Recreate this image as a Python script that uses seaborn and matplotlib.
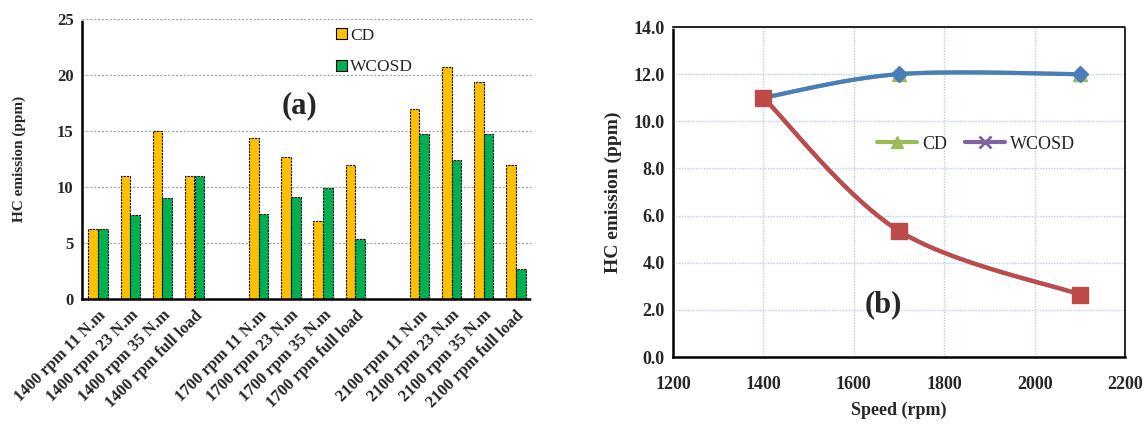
import numpy as np
import pandas as pd
import matplotlib
matplotlib.use("Agg")
import matplotlib.pyplot as plt
import seaborn as sns
from matplotlib.lines import Line2D
from matplotlib.patches import Patch
from matplotlib.ticker import MultipleLocator, FormatStrFormatter

sns.set_style("white")
plt.rcParams['font.family'] = ['Liberation Serif', 'DejaVu Serif']
plt.rcParams['font.weight'] = 'bold'

# ---------------- data (a) ----------------
slots = ["1400 rpm 11 N.m", "1400 rpm 23 N.m", "1400 rpm 35 N.m", "1400 rpm full load", "gap1",
         "1700 rpm 11 N.m", "1700 rpm 23 N.m", "1700 rpm 35 N.m", "1700 rpm full load", "gap2",
         "2100 rpm 11 N.m", "2100 rpm 23 N.m", "2100 rpm 35 N.m", "2100 rpm full load"]
cd_vals = [6.25, 11.0, 15.0, 11.0, np.nan,
           14.4, 12.7, 7.0, 12.0, np.nan,
           17.0, 20.7, 19.4, 12.0]
wcosd_vals = [6.25, 7.5, 9.0, 11.0, np.nan,
              7.6, 9.1, 9.9, 5.35, np.nan,
              14.7, 12.45, 14.75, 2.65]
tick_labels = [s if not s.startswith("gap") else "" for s in slots]
series_names = ["CD", "WCOSD"]
bar_colors = ["#FFC000", "#00B050"]

# ---------------- data (b) ----------------
speed = [1400, 1700, 2100]
cd_line = [11.0, 12.0, 12.0]
wcosd_line = [11.0, 5.35, 2.65]


def smooth(xs, ys, n=60):
    """Excel-like smoothed curve (Bezier through points, Catmull-Rom tangents)."""
    P = np.column_stack([xs, ys]).astype(float)
    m = len(P)
    out = []
    for i in range(m - 1):
        p0 = P[max(i - 1, 0)]
        p1 = P[i]
        p2 = P[i + 1]
        p3 = P[min(i + 2, m - 1)]
        c1 = p1 + (p2 - p0) / 6.0
        c2 = p2 - (p3 - p1) / 6.0
        t = np.linspace(0, 1, n)[:, None]
        seg = ((1 - t) ** 3) * p1 + 3 * ((1 - t) ** 2) * t * c1 + 3 * (1 - t) * t ** 2 * c2 + t ** 3 * p2
        out.append(seg if i == 0 else seg[1:])
    out = np.vstack(out)
    return out[:, 0], out[:, 1]


fig = plt.figure(figsize=(11.48, 4.25), dpi=100)
ax1 = fig.add_axes([82 / 1148, 1 - 299 / 425, 450 / 1148, 280 / 425])
ax2 = fig.add_axes([673 / 1148, 1 - 357 / 425, 452 / 1148, 330 / 425])

# ---------------- chart (a) ----------------
df = pd.DataFrame({
    "cond": slots * 2,
    "series": [series_names[0]] * len(slots) + [series_names[1]] * len(slots),
    "value": cd_vals + wcosd_vals,
})
sns.barplot(data=df, x="cond", y="value", hue="series", order=slots,
            hue_order=series_names, palette=bar_colors, width=0.6, saturation=1,
            edgecolor="black", linewidth=0.8, ax=ax1, legend=False)
for p in ax1.patches:
    p.set_linestyle((0, (2, 1)))

ax1.set_xlim(-0.5, len(slots) - 0.5)
ax1.set_ylim(0, 25)
ax1.set_yticks([0, 5, 10, 15, 20, 25])
ax1.set_yticklabels(["0", "5", "10", "15", "20", "25"], fontsize=12, fontweight='bold')
ax1.set_xticks(range(len(slots)))
ax1.set_xticklabels(tick_labels, rotation=45, ha='right', rotation_mode='anchor',
                    fontsize=12, fontweight='bold')
ax1.tick_params(axis='x', length=0, pad=6)
ax1.tick_params(axis='y', length=0, pad=6)
ax1.set_xticks(np.arange(-0.5, len(slots), 1.0), minor=True)
ax1.tick_params(axis='x', which='minor', direction='in', length=4, width=1.2, color='black')
ax1.yaxis.grid(True, color='#A0A0A0', linestyle=(0, (2, 1.5)), linewidth=0.8)
ax1.xaxis.grid(False)
ax1.set_axisbelow(True)
for s in ['top', 'right']:
    ax1.spines[s].set_visible(False)
for s in ['left', 'bottom']:
    ax1.spines[s].set_color('black')
    ax1.spines[s].set_linewidth(1.8)
    ax1.spines[s].set_linestyle((0, (1, 1)))
ax1.set_xlabel("")
ax1.set_ylabel("HC emission (ppm)", fontsize=11, fontweight='bold', labelpad=22)
ax1.text(0.484, 0.69, "(a)", transform=ax1.transAxes, fontsize=22, fontweight='bold',
         ha='center', va='center')
leg_handles = [Patch(facecolor=c, edgecolor='black', linewidth=0.8) for c in bar_colors]
ax1.legend(leg_handles, series_names, loc='upper left', bbox_to_anchor=(0.53, 1.025),
           frameon=False, prop={'family': 'Liberation Serif', 'weight': 'normal', 'size': 12.5},
           handlelength=0.6, handleheight=0.6, handletextpad=0.2, labelspacing=0.9)

# ---------------- chart (b) ----------------
xs_cd, ys_cd = smooth(speed, cd_line)
xs_w, ys_w = smooth(speed, wcosd_line)
curve_cd = pd.DataFrame({"x": xs_cd, "y": ys_cd})
curve_w = pd.DataFrame({"x": xs_w, "y": ys_w})
pts = pd.DataFrame({"speed": speed, "cd": cd_line, "wcosd": wcosd_line})

# hidden-under series (as in the original chart)
sns.lineplot(data=curve_cd, x="x", y="y", color="#9BBB59", linewidth=3, ax=ax2, sort=False, zorder=3)
ax2.plot(pts["speed"], pts["cd"], linestyle='none', marker='^', markersize=10,
         color="#9BBB59", zorder=3)
sns.lineplot(data=curve_w, x="x", y="y", color="#8064A2", linewidth=3, ax=ax2, sort=False, zorder=3)
# visible series
sns.lineplot(data=curve_cd, x="x", y="y", color="#4A7EBB", linewidth=3, ax=ax2, sort=False, zorder=4)
ax2.plot(pts["speed"], pts["cd"], linestyle='none', marker='D', markersize=8,
         color="#4A7EBB", zorder=4)
sns.lineplot(data=curve_w, x="x", y="y", color="#BE4B48", linewidth=3, ax=ax2, sort=False, zorder=5)
ax2.plot(pts["speed"], pts["wcosd"], linestyle='none', marker='s', markersize=12,
         color="#BE4B48", zorder=5)

ax2.set_xlim(1200, 2200)
ax2.set_ylim(0, 14)
ax2.set_xticks(range(1200, 2201, 200))
ax2.set_yticks(np.arange(0, 14.01, 2))
ax2.yaxis.set_major_formatter(FormatStrFormatter('%.1f'))
ax2.xaxis.set_minor_locator(MultipleLocator(40))
for lab in ax2.get_xticklabels() + ax2.get_yticklabels():
    lab.set_fontweight('bold')
    lab.set_fontsize(13)
ax2.tick_params(axis='x', which='major', direction='in', length=4, width=1.2, pad=14)
ax2.tick_params(axis='x', which='minor', direction='in', length=4, width=1.2)
ax2.tick_params(axis='y', length=0, pad=6)
ax2.grid(True, which='major', color='#B9CDE5', linestyle=(0, (1, 1)), linewidth=1.0)
ax2.set_axisbelow(True)
for s in ['top', 'right', 'left', 'bottom']:
    ax2.spines[s].set_color('black')
    ax2.spines[s].set_linewidth(1.2)
    ax2.spines[s].set_linestyle((0, (1, 1)))
ax2.spines['left'].set_linewidth(1.8)
ax2.spines['bottom'].set_linewidth(1.8)
ax2.set_xlabel("Speed (rpm)", fontsize=13, fontweight='bold', labelpad=6)
ax2.set_ylabel("HC emission (ppm)", fontsize=14, fontweight='bold', labelpad=8)
ax2.text(0.465, 0.158, "(b)", transform=ax2.transAxes, fontsize=22, fontweight='bold',
         ha='center', va='center')
leg2 = [Line2D([0], [0], color="#9BBB59", linewidth=3, marker='^', markersize=8),
        Line2D([0], [0], color="#8064A2", linewidth=3, marker='x', markersize=8, markeredgewidth=2)]
ax2.legend(leg2, series_names, loc='center left', bbox_to_anchor=(0.415, 0.645), ncol=2,
           frameon=False, prop={'family': 'Liberation Serif', 'weight': 'normal', 'size': 13},
           handlelength=2.2, handletextpad=0.3, columnspacing=1.0)

fig.savefig("out.png", dpi=100)
